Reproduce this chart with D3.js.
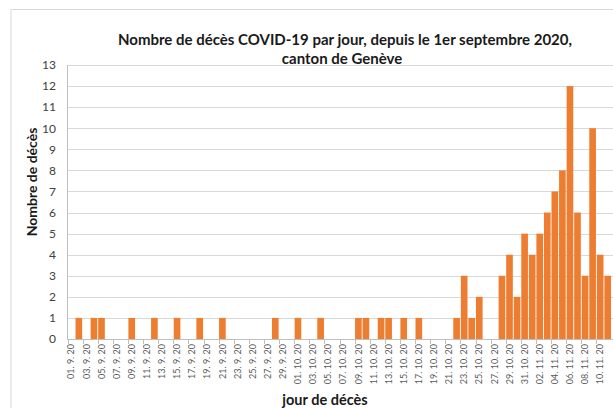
<!DOCTYPE html>
<html>
<head>
  <meta charset="utf-8">
  <title>Décès COVID-19 Genève</title>
  <script src="https://d3js.org/d3.v7.min.js"></script>
  <style>
    body { margin: 0; background: #fff; }
    svg { font-family: Lato, "Open Sans", sans-serif; }
    .grid line { stroke: #d9d9d9; stroke-width: 1px; }
  </style>
</head>
<body>
  <svg id="chart" width="613" height="408"></svg>
  <script>
    var width = 613;
    var height = 408;

    // jours (1er septembre -> 11 novembre 2020)
    var days = [
      "01. 9. 20","02. 9. 20","03. 9. 20","04. 9. 20","05. 9. 20","06. 9. 20","07. 9. 20","08. 9. 20",
      "09. 9. 20","10. 9. 20","11. 9. 20","12. 9. 20","13. 9. 20","14. 9. 20","15. 9. 20","16. 9. 20",
      "17. 9. 20","18. 9. 20","19. 9. 20","20. 9. 20","21. 9. 20","22. 9. 20","23. 9. 20","24. 9. 20",
      "25. 9. 20","26. 9. 20","27. 9. 20","28. 9. 20","29. 9. 20","30. 9. 20",
      "01. 10. 20","02. 10. 20","03. 10. 20","04. 10. 20","05. 10. 20","06. 10. 20","07. 10. 20","08. 10. 20",
      "09. 10. 20","10. 10. 20","11. 10. 20","12. 10. 20","13. 10. 20","14. 10. 20","15. 10. 20","16. 10. 20",
      "17. 10. 20","18. 10. 20","19. 10. 20","20. 10. 20","21. 10. 20","22. 10. 20","23. 10. 20","24. 10. 20",
      "25. 10. 20","26. 10. 20","27. 10. 20","28. 10. 20","29. 10. 20","30. 10. 20","31. 10. 20",
      "01. 11. 20","02. 11. 20","03. 11. 20","04. 11. 20","05. 11. 20","06. 11. 20","07. 11. 20","08. 11. 20",
      "09. 11. 20","10. 11. 20","11. 11. 20"
    ];

    // nombre de décès par jour
    var deaths = [
      0,1,0,1,1,0,0,0,
      1,0,0,1,0,0,1,0,
      0,1,0,0,1,0,0,0,
      0,0,0,1,0,0,
      1,0,0,1,0,0,0,0,
      1,1,0,1,1,0,1,0,
      1,0,0,0,0,1,3,1,
      2,0,0,3,4,2,5,
      4,5,6,7,8,12,6,3,
      10,4,3
    ];

    var yTicks = [0,1,2,3,4,5,6,7,8,9,10,11,12,13];

    var svg = d3.select("#chart");

    // cadre du graphique
    svg.append("path")
      .attr("d", "M11,408 V9.5 H613")
      .attr("fill", "none")
      .attr("stroke", "#d9d9d9");

    var x = d3.scaleBand()
      .domain(days)
      .range([67.5, 611.5])
      .paddingInner(0.12)
      .paddingOuter(0.06);

    var y = d3.scaleLinear()
      .domain([0, 13])
      .range([339, 65]);

    // grille horizontale
    svg.append("g")
      .attr("class", "grid")
      .selectAll("line")
      .data(yTicks)
      .enter()
      .append("line")
      .attr("x1", 67.5)
      .attr("x2", 613)
      .attr("y1", function(d) { return Math.round(y(d)) + 0.5; })
      .attr("y2", function(d) { return Math.round(y(d)) + 0.5; });

    // barres
    svg.selectAll(".bar")
      .data(deaths)
      .enter()
      .append("rect")
      .attr("class", "bar")
      .attr("x", function(d, i) { return x(days[i]); })
      .attr("width", x.bandwidth())
      .attr("y", function(d) { return y(d); })
      .attr("height", function(d) { return y(0) - y(d); })
      .style("fill", "#ed7d31");

    // axe y
    svg.append("line")
      .attr("x1", 67.5).attr("x2", 67.5)
      .attr("y1", y(13)).attr("y2", y(0))
      .attr("stroke", "#bfbfbf");

    svg.append("g")
      .selectAll("text")
      .data(yTicks)
      .enter()
      .append("text")
      .attr("x", 56)
      .attr("y", function(d) { return y(d); })
      .attr("dy", "0.36em")
      .attr("text-anchor", "end")
      .attr("font-size", "12px")
      .attr("fill", "#404040")
      .text(function(d) { return d; });

    // axe x
    svg.append("line")
      .attr("x1", 67.5).attr("x2", 613)
      .attr("y1", 339.5).attr("y2", 339.5)
      .attr("stroke", "#bfbfbf");

    var step = x.step();
    var labelled = days.filter(function(d, i) { return i % 2 === 0; });

    svg.append("g")
      .selectAll("line")
      .data(labelled)
      .enter()
      .append("line")
      .attr("x1", function(d) { return Math.round(x(d) - x.paddingInner() * step / 2) + 0.5; })
      .attr("x2", function(d) { return Math.round(x(d) - x.paddingInner() * step / 2) + 0.5; })
      .attr("y1", 339.5)
      .attr("y2", 344)
      .attr("stroke", "#bfbfbf");

    svg.append("g")
      .selectAll("text")
      .data(labelled)
      .enter()
      .append("text")
      .attr("transform", function(d) {
        return "translate(" + (x(d) + x.bandwidth() / 2) + ",344) rotate(-90)";
      })
      .attr("dy", "0.35em")
      .attr("text-anchor", "end")
      .attr("font-size", "9px")
      .attr("fill", "#595959")
      .text(function(d) { return d; });

    // titres
    var title = svg.append("text")
      .attr("text-anchor", "middle")
      .attr("font-size", "15px")
      .attr("font-weight", "bold")
      .attr("fill", "#1a1a1a");
    title.append("tspan").attr("x", 345).attr("y", 45)
      .text("Nombre de décès COVID-19 par jour, depuis le 1er septembre 2020,");
    title.append("tspan").attr("x", 342).attr("y", 64)
      .text("canton de Genève");

    svg.append("text")
      .attr("transform", "translate(37,182) rotate(-90)")
      .attr("text-anchor", "middle")
      .attr("font-size", "14px")
      .attr("font-weight", "bold")
      .attr("fill", "#1a1a1a")
      .text("Nombre de décès");

    svg.append("text")
      .attr("x", 325)
      .attr("y", 405)
      .attr("text-anchor", "middle")
      .attr("font-size", "14.5px")
      .attr("font-weight", "bold")
      .attr("fill", "#1a1a1a")
      .text("jour de décès");
  </script>
</body>
</html>
